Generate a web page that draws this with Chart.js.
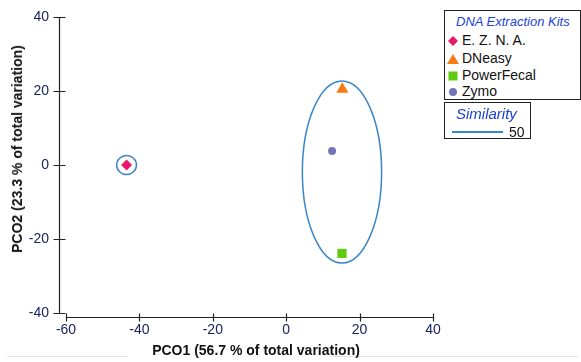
<!DOCTYPE html>
<html>
<head>
<meta charset="utf-8">
<script src="https://cdn.jsdelivr.net/npm/chart.js@4.4.1/dist/chart.umd.min.js"></script>
<style>
  html, body { margin: 0; padding: 0; background: #fff; }
  #wrap { position: relative; width: 581px; height: 362px; font-family: "Liberation Sans", Arial, sans-serif; }
  #chart { position: absolute; left: 0; top: 0; }
  .box { position: absolute; border: 1.5px solid #222; box-sizing: border-box; background: #fff; }
  .ttl { position: absolute; font-style: italic; color: #1d3fd8; white-space: nowrap; }
  .item { position: absolute; font-size: 14px; color: #111; white-space: nowrap; line-height: 16px; }
  .mk { position: absolute; }
  .axt { position: absolute; font-weight: bold; font-size: 14px; color: #111; white-space: nowrap; }
  .rule { position: absolute; height: 1px; background: #e2e2e2; top: 356px; }
</style>
</head>
<body>
<div id="wrap">
  <canvas id="chart" width="581" height="362"></canvas>
  <div class="rule" style="left:7px; width:121px;"></div>
  <div class="rule" style="left:332px; width:246px;"></div>
  <div class="axt" style="left:256px; top:350px; transform:translate(-50%,-50%);">PCO1 (56.7 % of total variation)</div>
  <div class="axt" style="left:17px; top:149px; transform:translate(-50%,-50%) rotate(-90deg);">PCO2 (23.3 % of total variation)</div>
  <div class="box" style="left:444px; top:10px; width:137px; height:90px;">
    <div class="ttl" style="left:11px; top:3px; font-size:13px;">DNA Extraction Kits</div>
    <div id="legendItems"></div>
  </div>
  <div class="box" style="left:444px; top:102px; width:87px; height:37px;">
    <div class="ttl" style="left:11px; top:2px; font-size:15px;">Similarity</div>
    <div style="position:absolute; left:7px; top:28px; width:51px; height:1.5px; background:#3a87c8;"></div>
    <div class="item" style="left:64px; top:21px;">50</div>
  </div>
</div>
<script>
// kits and their PCO scores
const kits = ['E. Z. N. A.', 'DNeasy', 'PowerFecal', 'Zymo'];
const pco1 = [-43.5, 15.3, 15.2, 12.5];
const pco2 = [0, 20.5, -23.9, 3.8];

// similarity 50 contours (centre and half-axes, in PCO units)
const simCx = [-43.5, 15.2];
const simCy = [0, -1.9];
const simRx = [2.7, 10.8];
const simRy = [2.6, 24.6];

const xTicks = [-60, -40, -20, 0, 20, 40];
const yTicks = [-40, -20, 0, 20, 40];

const kitColors = ['#e8186a', '#f77a12', '#5fcc12', '#7674b8'];
const kitStyles = ['rectRot', 'triangle', 'rect', 'circle'];
const kitRadius = [5.5, 7, 6.5, 4];
const ringColor = '#3a87c8';

// legend rows
const legendRows = [30, 48, 65, 81];
const legendBox = document.getElementById('legendItems');
const shapes = [
    c => `<polygon points="6,1 11,6 6,11 1,6" fill="${c}"/>`,
    c => `<polygon points="6,1 12,11 0,11" fill="${c}"/>`,
    c => `<rect x="1.5" y="1.5" width="9" height="9" fill="${c}"/>`,
    c => `<circle cx="6" cy="6" r="4" fill="${c}"/>`
];
kits.forEach((k, i) => {
    legendBox.innerHTML +=
        `<svg class="mk" width="12" height="12" style="left:2px; top:${legendRows[i] - 6}px">${shapes[i](kitColors[i])}</svg>` +
        `<div class="item" style="left:17px; top:${legendRows[i] - 9}px">${k}</div>`;
});

const ringsPlugin = {
    id: 'rings',
    beforeDatasetsDraw(chart) {
        const ctx = chart.ctx, xs = chart.scales.x, ys = chart.scales.y;
        ctx.save();
        ctx.strokeStyle = ringColor;
        ctx.lineWidth = 1.5;
        simCx.forEach((cx, i) => {
            const px = xs.getPixelForValue(cx);
            const py = ys.getPixelForValue(simCy[i]);
            const rx = Math.abs(xs.getPixelForValue(cx + simRx[i]) - px);
            const ry = Math.abs(ys.getPixelForValue(simCy[i] + simRy[i]) - py);
            ctx.beginPath();
            ctx.ellipse(px, py, rx, ry, 0, 0, Math.PI * 2);
            ctx.stroke();
        });
        ctx.restore();
    }
};

const axesPlugin = {
    id: 'axes',
    afterDraw(chart) {
        const ctx = chart.ctx, xs = chart.scales.x, ys = chart.scales.y;
        const a = chart.chartArea;
        const yx = Math.round(a.left - 7) + 0.5;
        const xy = Math.round(a.bottom + 4) + 0.5;
        ctx.save();
        ctx.strokeStyle = '#222';
        ctx.lineWidth = 1.2;
        ctx.beginPath();
        ctx.moveTo(yx, ys.getPixelForValue(yTicks[yTicks.length - 1]));
        ctx.lineTo(yx, ys.getPixelForValue(yTicks[0]));
        yTicks.forEach(v => {
            const p = Math.round(ys.getPixelForValue(v)) + 0.5;
            ctx.moveTo(yx - 6, p);
            ctx.lineTo(yx + 6, p);
        });
        ctx.moveTo(xs.getPixelForValue(xTicks[0]), xy);
        ctx.lineTo(xs.getPixelForValue(xTicks[xTicks.length - 1]), xy);
        xTicks.forEach(v => {
            const p = Math.round(xs.getPixelForValue(v)) + 0.5;
            ctx.moveTo(p, xy - 4);
            ctx.lineTo(p, xy + 4);
        });
        ctx.stroke();
        ctx.restore();
    }
};

const tickFont = { family: '"Liberation Sans", Arial, sans-serif', size: 14 };

new Chart(document.getElementById('chart').getContext('2d'), {
    type: 'scatter',
    data: {
        datasets: kits.map((k, i) => ({
            label: k,
            data: [{ x: pco1[i], y: pco2[i] }],
            pointStyle: kitStyles[i],
            pointRadius: kitRadius[i],
            pointBackgroundColor: kitColors[i],
            pointBorderColor: kitColors[i],
            pointBorderWidth: 0
        }))
    },
    options: {
        responsive: false,
        animation: false,
        layout: { padding: { left: 0, top: 17, right: 148, bottom: 0 } },
        scales: {
            x: {
                min: xTicks[0], max: xTicks[xTicks.length - 1],
                afterBuildTicks: s => { s.ticks = xTicks.map(v => ({ value: v })); },
                afterFit: s => { s.height = 49; s.paddingLeft = 0; s.paddingRight = 0; },
                grid: { display: false, drawTicks: false },
                border: { display: false },
                ticks: { color: '#1a2460', font: tickFont, padding: 9, maxRotation: 0 }
            },
            y: {
                min: yTicks[0], max: yTicks[yTicks.length - 1],
                afterBuildTicks: s => { s.ticks = yTicks.map(v => ({ value: v })); },
                afterFit: s => { s.width = 66; s.paddingTop = 0; s.paddingBottom = 0; },
                grid: { display: false, drawTicks: false },
                border: { display: false },
                ticks: { color: '#1a2460', font: tickFont, padding: 17 }
            }
        },
        plugins: {
            legend: { display: false },
            tooltip: { enabled: false }
        }
    },
    plugins: [ringsPlugin, axesPlugin]
});
</script>
</body>
</html>
